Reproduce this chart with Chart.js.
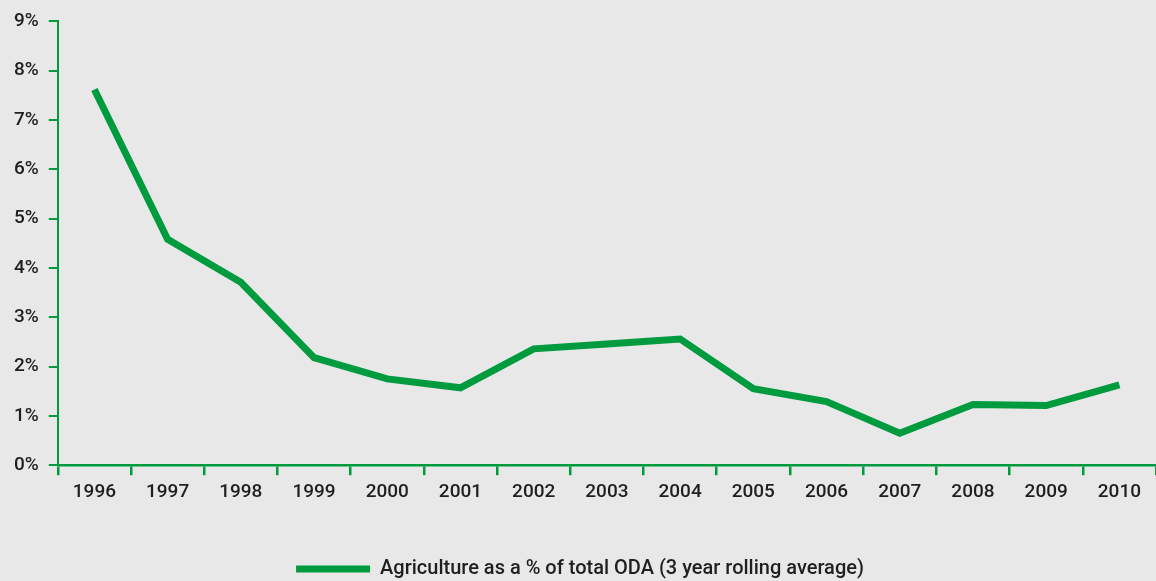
<!DOCTYPE html>
<html>
<head>
<meta charset="utf-8">
<script src="https://cdn.jsdelivr.net/npm/chart.js@4"></script>
<style>
html,body{margin:0;padding:0;background:#e8e8e8;}
#wrap{width:1156px;height:581px;}
</style>
</head>
<body>
<div id="wrap"><canvas id="c" width="1156" height="581"></canvas></div>
<script>
const years = ["1996","1997","1998","1999","2000","2001","2002","2003","2004","2005","2006","2007","2008","2009","2010"];
const agriShare = [7.62, 4.58, 3.71, 2.18, 1.75, 1.57, 2.36, 2.46, 2.56, 1.55, 1.29, 0.65, 1.23, 1.21, 1.63];
const seriesLabel = "Agriculture as a % of total ODA (3 year rolling average)";
const yTicks = [0,1,2,3,4,5,6,7,8,9];

const GREEN = '#009b3e';
const TEXT = '#1f1f1f';
const FONT = 'Roboto';

const legendShift = {
  id: 'legendShift',
  afterInit(chart) {
    const lg = chart.legend;
    if (!lg) return;
    const orig = lg.fit;
    lg.fit = function () { orig.call(this); this.height -= 8; };
  }
};

new Chart(document.getElementById('c'), {
  type: 'line',
  data: {
    labels: years,
    datasets: [{
      label: seriesLabel,
      data: agriShare,
      borderColor: GREEN,
      backgroundColor: GREEN,
      borderWidth: 7,
      pointRadius: 0,
      tension: 0,
      borderCapStyle: 'butt',
      borderJoinStyle: 'miter'
    }]
  },
  options: {
    responsive: false,
    animation: false,
    layout: { padding: { left: 4, right: 0, top: 11, bottom: 0 } },
    scales: {
      x: {
        offset: true,
        grid: { offset: true, drawOnChartArea: false, color: GREEN, lineWidth: 2.5, tickLength: 10 },
        border: { color: GREEN, width: 2.5 },
        ticks: { color: TEXT, font: { family: FONT, size: 19, weight: '500' }, padding: 6, maxRotation: 0 },
        afterFit: (s) => { s.height += 48; }
      },
      y: {
        min: 0, max: 9,
        afterBuildTicks: (s) => { s.ticks = yTicks.map(v => ({ value: v })); },
        grid: { drawOnChartArea: false, color: GREEN, lineWidth: 2, tickLength: 9 },
        border: { color: GREEN, width: 2 },
        ticks: { color: TEXT, font: { family: FONT, size: 19, weight: '500' }, padding: 10, callback: v => v + '%' }
      }
    },
    plugins: {
      tooltip: { enabled: false },
      legend: {
        position: 'bottom',
        labels: {
          color: TEXT,
          font: { family: FONT, size: 20, weight: '500' },
          boxWidth: 74,
          boxHeight: 7,
          padding: 1,
          generateLabels: (chart) => chart.data.datasets.map((d, i) => ({
            text: d.label, fillStyle: GREEN, strokeStyle: GREEN, lineWidth: 0, datasetIndex: i, fontColor: TEXT
          }))
        }
      }
    }
  },
  plugins: [legendShift]
});
</script>
</body>
</html>
